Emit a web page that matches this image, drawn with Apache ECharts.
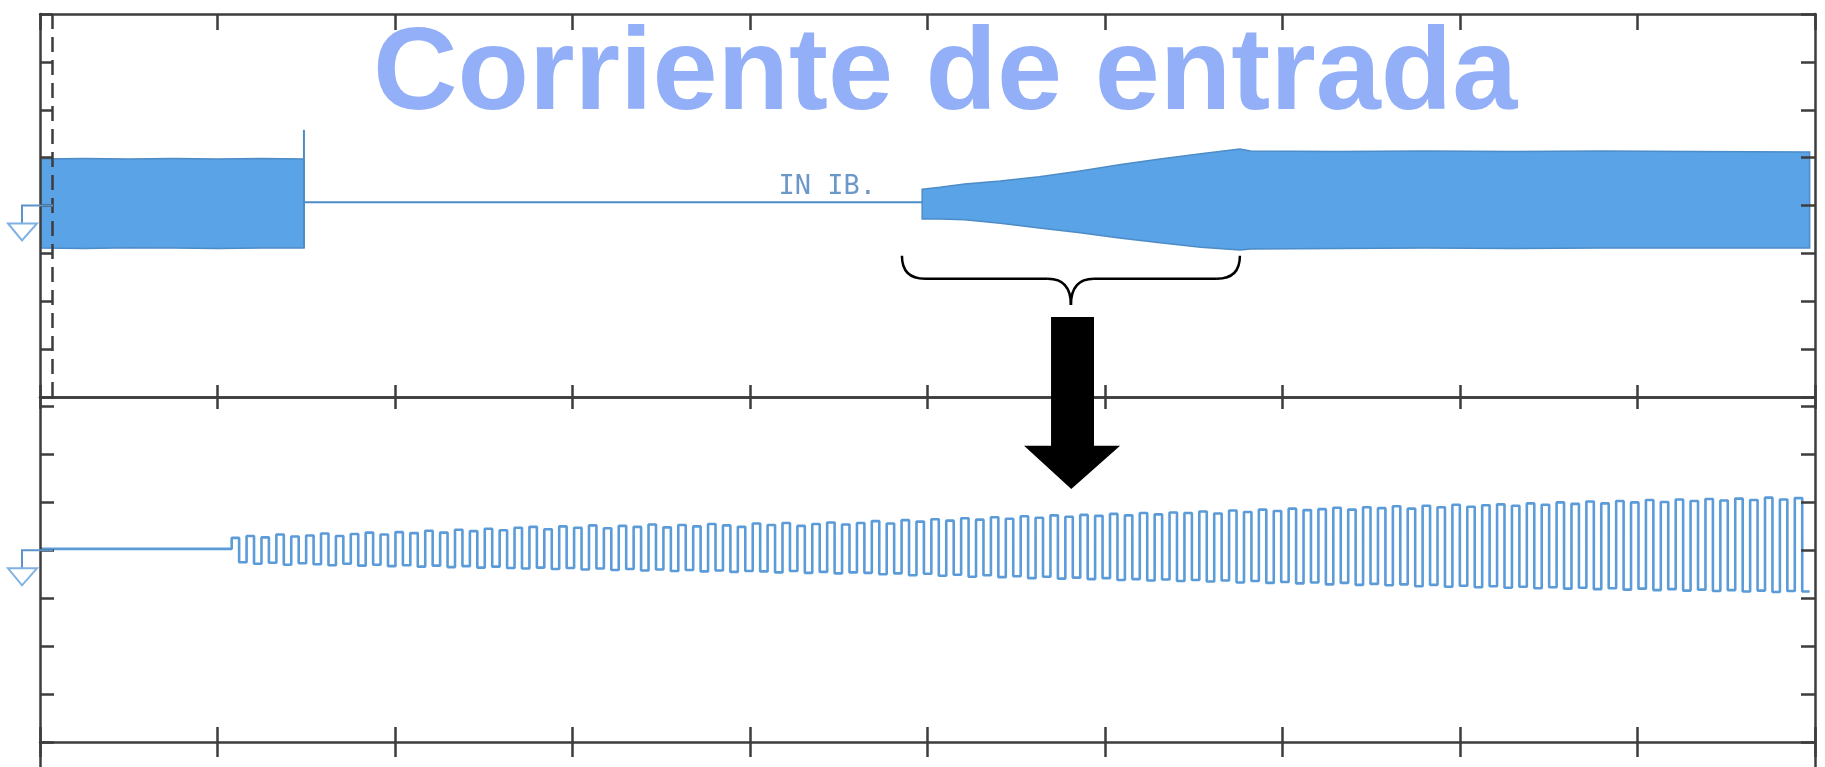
<!DOCTYPE html>
<html>
<head>
<meta charset="utf-8">
<title>Corriente de entrada</title>
<script src="https://cdn.jsdelivr.net/npm/echarts@6/dist/echarts.min.js"></script>
<style>
  html, body { margin: 0; padding: 0; background: #fff; }
  #chart { width: 1825px; height: 767px; }
</style>
</head>
<body>
<div id="chart"></div>
<script>
// all values in screen divisions (10 x-divisions, 8 y-divisions per panel)

// upper trace: burst before the cut
const burstX = [0, 0.25, 0.5, 0.75, 1.0, 1.25, 1.487];
const burstTop = [0.97, 0.98, 0.97, 0.98, 0.97, 0.98, 0.97];
const burstBottom = [-0.89, -0.9, -0.88, -0.89, -0.9, -0.89, -0.89];
// switching spike
const spikeX = 1.487;
const spikeY = [-0.89, 1.58];
// idle line between burst and ramp
const idleX = [1.487, 4.97];
const idleY = [0.07, 0.07];
// ramp-up and steady state envelope
const rampX = [4.97, 5.07, 5.21, 5.41, 5.63, 5.86, 6.08, 6.31, 6.54, 6.76, 6.82, 7.3, 7.8, 8.3, 8.8, 9.3, 9.97];
const rampTop = [0.34, 0.38, 0.45, 0.51, 0.6, 0.72, 0.85, 0.97, 1.08, 1.18, 1.14, 1.13, 1.14, 1.13, 1.14, 1.13, 1.12];
const rampBottom = [-0.28, -0.28, -0.3, -0.37, -0.47, -0.57, -0.68, -0.78, -0.87, -0.93, -0.91, -0.9, -0.89, -0.9, -0.89, -0.89, -0.89];
// dashed cursor
const cursorX = 0.073;

// lower trace (zoomed ramp): idle level, then one peak / trough per cycle
const lowerIdle = 0.03;
const lowerStart = 1.08;
const lowerEnd = 9.97;
const lowerTop = [
  0.26, 0.30, 0.27, 0.33, 0.29, 0.31, 0.35, 0.30, 0.34, 0.37, 0.33, 0.38, 0.36, 0.41, 0.37, 0.43, 0.40, 0.45, 0.42, 0.47,
  0.49, 0.44, 0.50, 0.47, 0.52, 0.46, 0.51, 0.49, 0.54, 0.48, 0.53, 0.50, 0.55, 0.52, 0.49, 0.56, 0.53, 0.57, 0.51, 0.55, 0.58, 0.54,
  0.57, 0.61, 0.56, 0.63, 0.60, 0.65, 0.62, 0.67, 0.64, 0.69, 0.66, 0.71, 0.68, 0.73, 0.70, 0.74, 0.72, 0.76, 0.73, 0.78, 0.75, 0.79,
  0.78, 0.81, 0.77, 0.83, 0.80, 0.85, 0.82, 0.87, 0.84, 0.86, 0.89, 0.85, 0.90, 0.88, 0.92, 0.87, 0.93, 0.90, 0.95, 0.91, 0.94,
  0.96, 0.93, 0.98, 0.95, 1.00, 0.97, 1.02, 0.98, 1.03, 1.00, 1.05, 1.01, 1.06, 1.03, 1.07, 1.04, 1.08, 1.05, 1.10, 1.06, 1.09
];
const lowerBottom = [
  -0.25, -0.28, -0.26, -0.30, -0.27, -0.29, -0.31, -0.28, -0.32, -0.30, -0.33, -0.31, -0.34, -0.32, -0.35, -0.33, -0.36, -0.34, -0.37, -0.38,
  -0.36, -0.39, -0.37, -0.40, -0.38, -0.41, -0.39, -0.42, -0.40, -0.43, -0.41, -0.44, -0.42, -0.45, -0.43, -0.44, -0.46, -0.43, -0.47, -0.45, -0.48, -0.46,
  -0.47, -0.50, -0.48, -0.52, -0.49, -0.53, -0.51, -0.55, -0.52, -0.56, -0.54, -0.58, -0.55, -0.59, -0.57, -0.60, -0.58, -0.62, -0.60, -0.63, -0.61, -0.64,
  -0.62, -0.65, -0.63, -0.67, -0.64, -0.68, -0.66, -0.69, -0.67, -0.71, -0.68, -0.72, -0.70, -0.73, -0.71, -0.75, -0.72, -0.76, -0.74, -0.77, -0.75,
  -0.78, -0.76, -0.79, -0.77, -0.80, -0.78, -0.81, -0.79, -0.82, -0.80, -0.83, -0.81, -0.84, -0.82, -0.85, -0.83, -0.86, -0.84, -0.87, -0.85, -0.86
];

const FRAME = '#3d3d3d';
const TRACE = '#5aa3e6';
const EDGE = '#4d8cc6';

// build the lower trace: square-ish wave, one cycle per value
const period = (lowerEnd - lowerStart) / lowerTop.length;
const lowerData = [[0, lowerIdle]];
lowerTop.forEach(function (t, i) {
  lowerData.push([lowerStart + i * period, t]);
  lowerData.push([lowerStart + (i + 0.5) * period, lowerBottom[i]]);
});
lowerData.push([lowerEnd, lowerBottom[lowerBottom.length - 1]]);

function xAx(grid, pos, tickLen, showLine) {
  return {
    type: 'value', gridIndex: grid, position: pos, min: 0, max: 10, interval: 1, z: 10,
    axisLine: { show: showLine !== false, onZero: false, lineStyle: { color: FRAME, width: 2.5 } },
    axisTick: { show: tickLen > 0, inside: true, length: tickLen, lineStyle: { color: FRAME, width: 2.5 } },
    axisLabel: { show: false }, splitLine: { show: false }
  };
}
function yAx(grid, pos, min, max, tickLen) {
  return {
    type: 'value', gridIndex: grid, position: pos, min: min, max: max, interval: 1, z: 10,
    axisLine: { show: true, onZero: false, lineStyle: { color: FRAME, width: 2.5 } },
    axisTick: { show: tickLen > 0, inside: true, length: tickLen, lineStyle: { color: FRAME, width: 2.5 } },
    axisLabel: { show: false }, splitLine: { show: false }
  };
}

// filled envelope (the fast signal shows as a solid band)
function band(xs, tops, bottoms) {
  return {
    type: 'custom', xAxisIndex: 0, yAxisIndex: 0, clip: true, silent: true,
    data: [[xs[0], tops[0]]],
    renderItem: function (params, api) {
      const pts = xs.map(function (x, i) { return api.coord([x, tops[i]]); });
      for (let i = xs.length - 1; i >= 0; i--) pts.push(api.coord([xs[i], bottoms[i]]));
      return { type: 'polygon', shape: { points: pts }, style: { fill: TRACE, stroke: EDGE, lineWidth: 1.5 } };
    }
  };
}

const chart = echarts.init(document.getElementById('chart'));
chart.setOption({
  animation: false,
  backgroundColor: '#fff',
  title: {
    text: 'Corriente de entrada',
    left: 373, top: 18, padding: 0,
    textStyle: { fontFamily: 'Liberation Sans, Arial', fontWeight: 'bold', fontSize: 117, lineHeight: 118, color: '#93aff8' }
  },
  grid: [
    { left: 40, right: 10, top: 14, height: 383 },
    { left: 40, right: 10, top: 397, height: 345 },
    { left: 40, right: 10, top: 742, height: 25 }
  ],
  xAxis: [
    xAx(0, 'bottom', 12),
    xAx(0, 'top', 16),
    xAx(1, 'bottom', 15),
    xAx(1, 'top', 12),
    xAx(2, 'top', 15, false)
  ],
  yAxis: [
    yAx(0, 'left', -4, 4, 13),
    yAx(0, 'right', -4, 4, 14),
    yAx(1, 'left', -4, 3.2, 14),
    yAx(1, 'right', -4, 3.2, 14),
    yAx(2, 'left', 0, 1, 0),
    yAx(2, 'right', 0, 1, 0)
  ],
  series: [
    band(burstX, burstTop, burstBottom),
    band(rampX, rampTop, rampBottom),
    {
      type: 'line', xAxisIndex: 0, yAxisIndex: 0, symbol: 'none',
      data: spikeY.map(function (v) { return [spikeX, v]; }),
      lineStyle: { color: EDGE, width: 2 }
    },
    {
      type: 'line', xAxisIndex: 0, yAxisIndex: 0, symbol: 'none',
      data: idleX.map(function (x, i) { return [x, idleY[i]]; }),
      lineStyle: { color: EDGE, width: 2 },
      markLine: {
        silent: true, symbol: ['none', 'none'], label: { show: false },
        lineStyle: { color: FRAME, width: 2.5, type: [15, 8] },
        data: [{ xAxis: cursorX }]
      }
    },
    {
      type: 'line', xAxisIndex: 2, yAxisIndex: 2, symbol: 'none', step: 'end',
      data: lowerData,
      lineStyle: { color: '#5b9bd8', width: 2.6 }
    }
  ]
});

// annotations: ground markers, "IN IB." tag, brace and arrow
function px(xi, yi, x, y) { return chart.convertToPixel({ xAxisIndex: xi, yAxisIndex: yi }, [x, y]); }
function ground(xi, yi) {
  const p = px(xi, yi, 0, 0);
  const x0 = p[0], y0 = p[1];
  return [
    { type: 'polyline', z: 20, shape: { points: [[x0 + 13, y0], [x0 - 18, y0], [x0 - 18, y0 + 18]] },
      style: { stroke: '#5e93c8', lineWidth: 2, fill: null } },
    { type: 'polygon', z: 20, shape: { points: [[x0 - 32, y0 + 18], [x0 - 3, y0 + 18], [x0 - 18, y0 + 35]] },
      style: { stroke: '#7fb2e2', lineWidth: 2, fill: '#fff' } }
  ];
}
const tag = px(0, 0, 4.16, 0.1);
const bL = px(0, 0, 4.856, -1.05), bR = px(0, 0, 6.76, -1.05);
const bMid = px(0, 0, 5.808, -1.53), bTip = px(0, 0, 5.808, -2.08);
const r = 23;
const braceStyle = { stroke: '#000', lineWidth: 2.5, fill: null };
const brace = [
  { type: 'bezierCurve', z: 20, shape: { x1: bL[0], y1: bL[1], cpx1: bL[0], cpy1: bMid[1], x2: bL[0] + r, y2: bMid[1] }, style: braceStyle },
  { type: 'line', z: 20, shape: { x1: bL[0] + r, y1: bMid[1], x2: bMid[0] - r, y2: bMid[1] }, style: braceStyle },
  { type: 'bezierCurve', z: 20, shape: { x1: bMid[0] - r, y1: bMid[1], cpx1: bMid[0], cpy1: bMid[1], x2: bTip[0], y2: bTip[1] }, style: braceStyle },
  { type: 'bezierCurve', z: 20, shape: { x1: bTip[0], y1: bTip[1], cpx1: bMid[0], cpy1: bMid[1], x2: bMid[0] + r, y2: bMid[1] }, style: braceStyle },
  { type: 'line', z: 20, shape: { x1: bMid[0] + r, y1: bMid[1], x2: bR[0] - r, y2: bMid[1] }, style: braceStyle },
  { type: 'bezierCurve', z: 20, shape: { x1: bR[0] - r, y1: bMid[1], cpx1: bR[0], cpy1: bMid[1], x2: bR[0], y2: bR[1] }, style: braceStyle }
];
const sTL = px(0, 0, 5.696, -2.33), sBR = px(0, 0, 5.938, -5.02);
const hL = px(0, 0, 5.544, -5.02), hR = px(0, 0, 6.085, -5.02), hT = px(0, 0, 5.81, -5.92);

chart.setOption({
  graphic: ground(0, 0).concat(ground(2, 2)).concat(brace).concat([
    { type: 'text', z: 20, style: { text: 'IN IB.', x: tag[0], y: tag[1], fontFamily: 'DejaVu Sans Mono', fontSize: 27,
        fill: '#6b98c8', textVerticalAlign: 'bottom', verticalAlign: 'bottom' } },
    { type: 'polygon', z: 20, shape: { points: [
        [sTL[0], sTL[1]], [sBR[0], sTL[1]], [sBR[0], hR[1]], [hR[0], hR[1]], [hT[0], hT[1]],
        [hL[0], hL[1]], [sTL[0], hL[1]] ] }, style: { fill: '#000' } }
  ])
});
</script>
</body>
</html>
